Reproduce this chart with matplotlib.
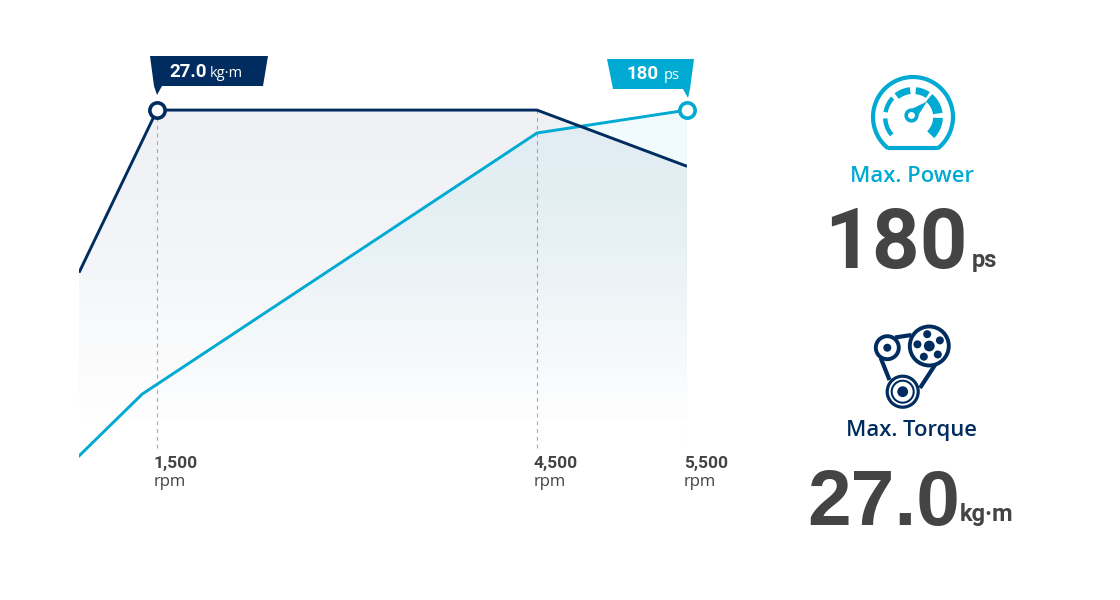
#!/usr/bin/env python3
import numpy as np

import matplotlib
matplotlib.use('Agg')
import matplotlib.pyplot as plt
from matplotlib.patches import Circle, Polygon

# data
torque_rpm = [884, 1500, 4500, 5500]
torque_kgm = [13.7, 27.0, 27.0, 22.4]
power_rpm  = [884, 1382, 4500, 5500]
power_ps   = [-8.7, 25.0, 167.5, 180.0]
tick_rpm   = [1500, 4500, 5500]
tick_text  = ['1,500', '4,500', '5,500']

NAVY = '#002C5F'
CYAN = '#00AAD2'
GREY = '#444444'
FONT = ['Open Sans', 'DejaVu Sans']
NUMS = ['Roboto', 'DejaVu Sans']
BIG  = ['Liberation Sans', 'DejaVu Sans']

plt.rcParams['font.family'] = FONT


# the rpm axis of the original is not linear, 1500-4500 is tighter than 4500-5500
def rpm_to_pos(v):
	v = np.asarray(v, dtype=float)
	return np.where(v < 4500, (v - 1500) * 380 / 3000, 380 + (v - 4500) * 150 / 1000)


def pos_to_rpm(p):
	p = np.asarray(p, dtype=float)
	return np.where(p < 380, 1500 + p * 3000 / 380, 4500 + (p - 380) * 1000 / 150)


def gradient(color, top):
	rows = np.linspace(100, 460, 180)
	alpha = np.interp(rows, [110, 230, 436], [top, top * 0.82, 0.0])
	img = np.ones((len(rows), 1, 4))
	img[:, 0, :3] = matplotlib.colors.to_rgb(color)
	img[:, 0, 3] = alpha
	return img


def arc(cx, cy, r, a0, a1):
	# angles counted the usual way, the art axes has y pointing down
	t = np.radians(np.linspace(a0, a1, 60))
	return np.column_stack([cx + r * np.cos(t), cy - r * np.sin(t)])


fig = plt.figure(figsize=(11.2, 6), dpi=100, facecolor='white')

ax = fig.add_axes([79 / 1120, 1 - 460 / 600, 608 / 1120, 360 / 600])
ax.set_xscale('function', functions=(rpm_to_pos, pos_to_rpm))
ax_p = ax.twinx()

# gradient fills, clipped to the area under each curve
for cax, xs, ys, col, base, top in ((ax, torque_rpm, torque_kgm, NAVY, -1.64, 0.068),
                                    (ax_p, power_rpm, power_ps, CYAN, -10.9, 0.06)):
	im = cax.imshow(gradient(col, top), extent=(0, 1, 0, 1), transform=cax.transAxes,
	                aspect='auto', interpolation='bilinear', zorder=1)
	verts = list(zip(xs, ys)) + [(xs[-1], base), (xs[0], base)]
	clip = Polygon(verts, closed=True, transform=cax.transData, facecolor='none', edgecolor='none')
	cax.add_patch(clip)
	im.set_clip_path(clip)

ax.vlines(tick_rpm, -0.65, 27.0, color='#a8a8a8', lw=0.8, linestyles=(0, (3.5, 3.5)), zorder=2)

ax_p.plot(power_rpm, power_ps, color=CYAN, lw=2.1, zorder=3, solid_joinstyle='miter')
ax_p.plot(torque_rpm, np.array(torque_kgm) * 180 / 27, color=NAVY, lw=2.1, zorder=4,
          solid_joinstyle='miter', solid_capstyle='butt')
ax_p.plot(torque_rpm[1], torque_kgm[1] * 180 / 27, 'o', ms=11, mfc='white', mec=NAVY, mew=2.6,
          zorder=6, clip_on=False)
ax_p.plot(power_rpm[-1], power_ps[-1], 'o', ms=11, mfc='white', mec=CYAN, mew=2.6,
          zorder=6, clip_on=False)

for r, t in zip(tick_rpm, tick_text):
	ax.annotate(t, (r, 0), xycoords=ax.get_xaxis_transform(), xytext=(-2.2, -5.8), textcoords='offset points',
	            fontsize=12.5, fontweight='bold', family=NUMS, color=GREY, ha='left', va='baseline', annotation_clip=False)
	ax.annotate('rpm', (r, 0), xycoords=ax.get_xaxis_transform(), xytext=(-2.2, -18.7), textcoords='offset points',
	            fontsize=12, color=GREY, ha='left', va='baseline', annotation_clip=False)

for a, lim in ((ax, (-1.64, 27.82)), (ax_p, (-10.9, 185.5))):
	a.set_xlim(884, 5500)
	a.set_ylim(*lim)
	a.axis('off')

# layer for flags, icons and the big numbers, in pixels
art = fig.add_axes([0, 0, 1, 1], facecolor='none')
art.set_xlim(0, 1120)
art.set_ylim(600, 0)
art.axis('off')

art.add_patch(Polygon([(150, 56), (268, 56), (263, 86), (162, 86), (157, 95), (154, 86)], fc=NAVY, ec='none'))
art.add_patch(Polygon([(607, 59), (694, 59), (690, 89), (688, 98), (683, 89), (613, 89)], fc=CYAN, ec='none'))
art.text(169, 77, '27.0', fontsize=13.5, fontweight='bold', family=NUMS, color='white', ha='left', va='baseline')
art.text(210, 77, 'kg·m', fontsize=10.5, color='white', ha='left', va='baseline')
art.text(627, 79, '180', fontsize=13.5, fontweight='bold', family=NUMS, color='white', ha='left', va='baseline')
art.text(664, 79, 'ps', fontsize=10.5, color='white', ha='left', va='baseline')

# gauge icon
cx, cy = 913, 117
art.plot(*arc(cx, cy, 40, -52, 232).T, color=CYAN, lw=3, solid_capstyle='butt')
art.plot([888, 938], [148, 148], color=CYAN, lw=3, solid_capstyle='butt')
for a0, a1, r, w in ((183, 220, 27.8, 3.2), (137, 170, 27.8, 3.2), (96, 128, 26.5, 5),
                     (56, 84, 26.5, 5), (8, 50, 25, 7), (-45, -2, 25, 7)):
	art.plot(*arc(cx, cy, r, a0, a1).T, color=CYAN, lw=w, solid_capstyle='butt')
art.add_patch(Polygon([(910.5, 109.5), (917.5, 116.5), (927, 101.5)], fc=CYAN, ec='none'))
art.add_patch(Circle((911.5, 115.5), 5.3, fc='white', ec=CYAN, lw=2.6))

# belt and pulleys icon
for x0, y0, x1, y1 in ((895, 337.5, 911.5, 335), (880.7, 358, 889.5, 380), (935, 365, 920, 388)):
	art.plot([x0, x1], [y0, y1], color=NAVY, lw=3, solid_capstyle='butt')
art.add_patch(Circle((887.3, 347.7), 11.5, fc='white', ec=NAVY, lw=2.8))
art.add_patch(Circle((887.3, 347.7), 4, fc=NAVY, ec='none'))
art.add_patch(Circle((929.3, 346), 19.5, fc='white', ec=NAVY, lw=2.8))
art.add_patch(Circle((929.3, 346), 5.4, fc=NAVY, ec='none'))
for a in (100, 28, -45, -117, 172):
	art.add_patch(Circle((929.3 + 12 * np.cos(np.radians(a)), 346 - 12 * np.sin(np.radians(a))),
	                     4, fc=NAVY, ec='none'))
art.add_patch(Circle((902.7, 391.7), 15.5, fc='white', ec=NAVY, lw=2.3))
art.add_patch(Circle((902.7, 391.7), 11, fc='white', ec=NAVY, lw=1.5))
art.add_patch(Circle((902.7, 391.7), 5.4, fc=NAVY, ec='none'))

# right column text
art.text(912, 182, 'Max. Power', fontsize=15.8, fontweight='semibold', color=CYAN, ha='center', va='baseline')
art.text(912, 436, 'Max. Torque', fontsize=15.8, fontweight='semibold', color=NAVY, ha='center', va='baseline')
art.text(824, 268, '180', fontsize=60, fontweight='bold', family=NUMS, color=GREY, ha='left', va='baseline')
art.text(972, 267, 'ps', fontsize=17, fontweight='bold', family=NUMS, color=GREY, ha='left', va='baseline')
art.text(807, 525, '27.0', fontsize=56.5, fontweight='bold', family=BIG, color=GREY, ha='left', va='baseline')
art.text(960, 521, 'kg·m', fontsize=17, fontweight='bold', family=NUMS, color=GREY, ha='left', va='baseline')

fig.savefig('out.png', dpi=100)
